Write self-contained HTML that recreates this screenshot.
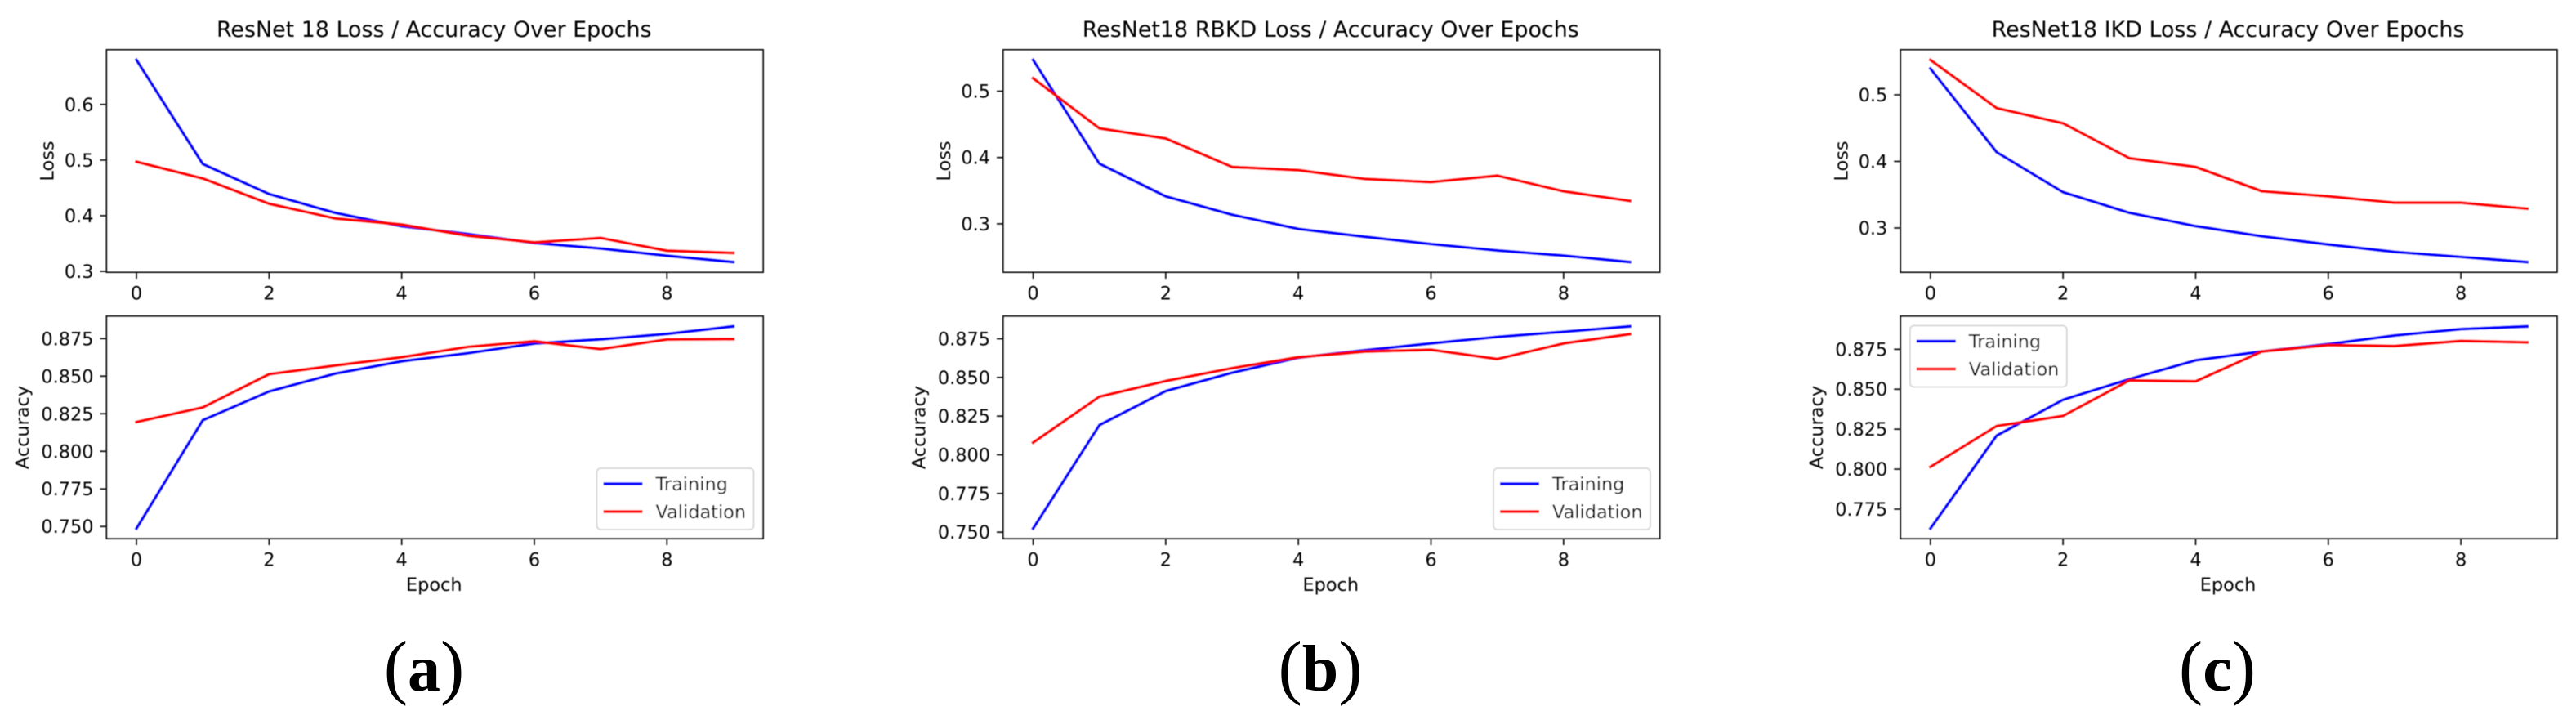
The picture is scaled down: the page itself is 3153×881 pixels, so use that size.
<!DOCTYPE html>
<html lang="en">
<head>
<meta charset="utf-8">
<title>ResNet18 Loss and Accuracy Comparison</title>
<style>
html,body{margin:0;padding:0;background:#fff;}
svg{display:block;}
text{font-family:"DejaVu Sans","Liberation Sans",sans-serif;fill:#000;}
.caption{font-family:"Liberation Serif",serif;fill:#000;}
</style>
</head>
<body>
<svg id="figure" xmlns="http://www.w3.org/2000/svg" width="3153" height="881" viewBox="0 0 3153 881">
<defs><filter id="soft" x="-2%" y="-2%" width="104%" height="104%"><feGaussianBlur stdDeviation="0.5"/></filter></defs>
<rect x="0" y="0" width="3153" height="881" fill="#fff"/>
<g id="plots" filter="url(#soft)"></g>
</svg>
<script>
const epochs = [0,1,2,3,4,5,6,7,8,9];
const xTicks = [0,2,4,6,8];

const titleA = "ResNet 18 Loss / Accuracy Over Epochs";
const titleB = "ResNet18 RBKD Loss / Accuracy Over Epochs";
const titleC = "ResNet18 IKD Loss / Accuracy Over Epochs";

const lossTicksA = [0.3,0.4,0.5,0.6];
const lossTicksB = [0.3,0.4,0.5];
const lossTicksC = [0.3,0.4,0.5];
const accTicksA = [0.750,0.775,0.800,0.825,0.850,0.875];
const accTicksB = [0.750,0.775,0.800,0.825,0.850,0.875];
const accTicksC = [0.775,0.800,0.825,0.850,0.875];

const lossTrainA = [0.680,0.493,0.439,0.405,0.381,0.367,0.351,0.341,0.328,0.3167];
const lossValA   = [0.497,0.467,0.4215,0.395,0.384,0.364,0.352,0.360,0.337,0.333];
const accTrainA  = [0.7487,0.8207,0.8398,0.8517,0.8599,0.8653,0.8717,0.8745,0.8781,0.8831];
const accValA    = [0.8195,0.8292,0.8513,0.8571,0.8626,0.8695,0.8732,0.868,0.8744,0.8747];

const lossTrainB = [0.547,0.3907,0.3415,0.3138,0.2924,0.2806,0.2696,0.2599,0.2522,0.2425];
const lossValB   = [0.5194,0.4439,0.4287,0.3858,0.381,0.3678,0.363,0.3727,0.3491,0.3346];
const accTrainB  = [0.7524,0.8192,0.8412,0.853,0.8628,0.8676,0.872,0.8762,0.8795,0.8830];
const accValB    = [0.8079,0.8376,0.8477,0.856,0.8631,0.8667,0.8679,0.8619,0.872,0.878];

const lossTrainC = [0.5393,0.4138,0.3538,0.3228,0.3028,0.2876,0.2752,0.2641,0.2566,0.2489];
const lossValC   = [0.5523,0.48,0.4572,0.4048,0.3917,0.3552,0.3476,0.3379,0.3379,0.329];
const accTrainC  = [0.7629,0.821,0.8434,0.8563,0.8681,0.8736,0.8782,0.8836,0.8876,0.8893];
const accValC    = [0.8014,0.827,0.8333,0.8555,0.8549,0.8736,0.8776,0.877,0.8802,0.8793];

const NS = "http://www.w3.org/2000/svg";
const root = document.getElementById("plots");
const figure = document.getElementById("figure");
const AXW = 803.5, TOP1 = 61, BOT1 = 333, TOP2 = 387, BOT2 = 659;
const BLUE = "#0000ff", RED = "#ff0000", INK = "#111";
const FS = 22.4, TITLE_FS = 26.9;

function make(tag, attrs, parent) {
  const el = document.createElementNS(NS, tag);
  for (const k in attrs) el.setAttribute(k, attrs[k]);
  (parent || root).appendChild(el);
  return el;
}
function drawLine(x1, y1, x2, y2, color, width, name) {
  const el = make("line", {x1:x1, y1:y1, x2:x2, y2:y2, stroke:color, "stroke-width":width});
  
  
  return el;
}
function drawText(str, x, y, size, anchor, name, rotate) {
  const el = make("text", {x:x, y:y, "font-size":size, "text-anchor":anchor});
  if (rotate) el.setAttribute("transform", "rotate(-90 " + x + " " + y + ")");
  el.textContent = str;
  
  
  return el;
}
function autoDomain(seriesA, seriesB) {
  const all = seriesA.concat(seriesB);
  const lo = Math.min.apply(null, all), hi = Math.max.apply(null, all);
  const pad = (hi - lo) * 0.05;
  return [lo - pad, hi + pad];
}
function scaleX(left, v) {
  const lo = -0.45, hi = 9.45;
  return left + (v - lo) / (hi - lo) * AXW;
}
function scaleY(dom, top, bottom, v) {
  return bottom - (v - dom[0]) / (dom[1] - dom[0]) * (bottom - top);
}
function drawAxes(left, top, bottom, prefix, train, val, yTicks, decimals, yLabel, yLabelOffset, showEpoch) {
  const dom = autoDomain(train, val);
  const frame = make("rect", {x:left, y:top, width:AXW, height:bottom-top, fill:"#fff", stroke:INK, "stroke-width":2});
  
  
  xTicks.forEach(function (t) {
    const x = scaleX(left, t);
    drawLine(x, bottom, x, bottom + 8, INK, 1.7, prefix + '-x-tick-' + t);
    drawText(String(t), x, bottom + 33.5, FS, "middle", prefix + '-x-tick-label-' + t);
  });
  yTicks.forEach(function (t) {
    const y = scaleY(dom, top, bottom, t);
    drawLine(left - 8, y, left, y, INK, 1.7, prefix + '-y-tick-' + t);
    drawText(t.toFixed(decimals), left - 16, y + 8, FS, "end", prefix + '-y-tick-label-' + t);
  });
  drawText(yLabel, left - yLabelOffset, (top + bottom) / 2, FS, "middle", prefix + '-y-axis-title', true);
  if (showEpoch) drawText("Epoch", left + AXW / 2 - 1, bottom + 64, FS, "middle", prefix + '-x-axis-title');
  drawSeries(left, top, bottom, dom, train, BLUE, prefix + '-training-line');
  drawSeries(left, top, bottom, dom, val, RED, prefix + '-validation-line');
}
function drawSeries(left, top, bottom, dom, values, color, name) {
  const pts = epochs.map(function (e, i) {
    return scaleX(left, e).toFixed(2) + "," + scaleY(dom, top, bottom, values[i]).toFixed(2);
  }).join(" ");
  const el = make("polyline", {points:pts, fill:"none", stroke:color, "stroke-width":3.6, "stroke-linecap":"square", "stroke-linejoin":"round"});
  
  
}
function drawLegend(x, y, prefix) {
  const box = make("rect", {x:x, y:y, width:192, height:75, rx:5, ry:5, fill:"#fff", stroke:"#d6d6d6", "stroke-width":1.8});
  
  
  drawLine(x + 8, y + 19, x + 56, y + 19, BLUE, 3.6, prefix + '-legend-training-swatch');
  drawText("Training", x + 72, y + 27, FS, "start", prefix + '-legend-training-label');
  drawLine(x + 8, y + 53, x + 56, y + 53, RED, 3.6, prefix + '-legend-validation-swatch');
  drawText("Validation", x + 72, y + 61, FS, "start", prefix + '-legend-validation-label');
}
function drawPanel(prefix, left, title, lossTrain, lossVal, lossTicks, accTrain, accVal, accTicks, legendTop) {
  drawText(title, left + AXW / 2 - 1, 45, TITLE_FS, "middle", prefix + '-title');
  drawAxes(left, TOP1, BOT1, prefix + '-loss', lossTrain, lossVal, lossTicks, 1, "Loss", 65, false);
  drawAxes(left, TOP2, BOT2, prefix + '-accuracy', accTrain, accVal, accTicks, 3, "Accuracy", 95.5, true);
  if (legendTop) drawLegend(left + 11.5, TOP2 + 11.5, prefix);
  else drawLegend(left + AXW - 203.5, BOT2 - 86, prefix);
}
function drawCaption(letter, x, name) {
  const el = make("text", {x:x, y:845, "text-anchor":"middle", "class":"caption"}, figure);
  const open = make("tspan", {"font-size":88}, el);
  open.textContent = "(";
  const mid = make("tspan", {"font-size":80, "font-weight":"bold"}, el);
  mid.textContent = letter;
  const close = make("tspan", {"font-size":88}, el);
  close.textContent = ")";
  
  
}

drawPanel("panel-a", 130.5, titleA, lossTrainA, lossValA, lossTicksA, accTrainA, accValA, accTicksA, false);
drawPanel("panel-b", 1228, titleB, lossTrainB, lossValB, lossTicksB, accTrainB, accValB, accTicksB, false);
drawPanel("panel-c", 2326.3, titleC, lossTrainC, lossValC, lossTicksC, accTrainC, accValC, accTicksC, true);
drawCaption("a", 519, "caption-a");
drawCaption("b", 1616, "caption-b");
drawCaption("c", 2714, "caption-c");
</script>
</body>
</html>
